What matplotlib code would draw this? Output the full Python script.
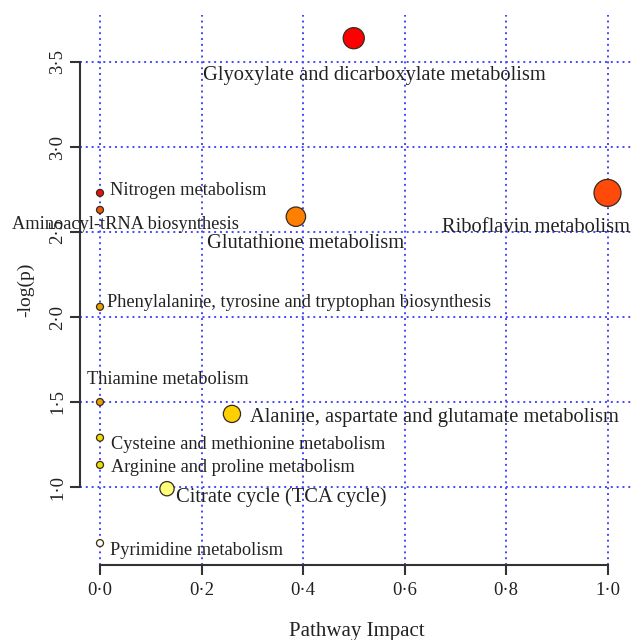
import numpy as np
import matplotlib.pyplot as plt

plt.rcParams['font.family'] = ['Liberation Serif', 'DejaVu Serif']

# pathway data
pathways = [
    "Glyoxylate and dicarboxylate metabolism",
    "Riboflavin metabolism",
    "Nitrogen metabolism",
    "Aminoacyl-tRNA biosynthesis",
    "Glutathione metabolism",
    "Phenylalanine, tyrosine and tryptophan biosynthesis",
    "Thiamine metabolism",
    "Alanine, aspartate and glutamate metabolism",
    "Cysteine and methionine metabolism",
    "Arginine and proline metabolism",
    "Citrate cycle (TCA cycle)",
    "Pyrimidine metabolism",
]
impact = [0.50, 1.00, 0.0, 0.0, 0.386, 0.0, 0.0, 0.26, 0.0, 0.0, 0.132, 0.0]
neglogp = [3.64, 2.73, 2.73, 2.63, 2.59, 2.06, 1.50, 1.43, 1.29, 1.13, 0.99, 0.67]

# colours and label placement (styling only)
colors = ["#ff0000", "#ff4a0a", "#e81010", "#e85a0a", "#ff8000", "#eaa000",
          "#eaa000", "#ffd000", "#ece000", "#ece000", "#ffff78", "#fffff0"]
big = [True, True, False, False, True, False, False, True, False, False, True, False]
offsets = [(21, -37, 'center'), (-72, -35, 'center'), (10, 2, 'left'),
           (25, -15, 'center'), (10, -27, 'center'), (7, 4, 'left'),
           (68, 22, 'center'), (18, -4, 'left'), (11, -7, 'left'),
           (11, -3, 'left'), (9, -8, 'left'), (10, -7, 'left')]

fig = plt.figure(figsize=(6.33, 6.40), dpi=100)
ax = fig.add_axes([80 / 633, 75 / 640, 553 / 633, 550 / 640])

x = np.array(impact)
y = np.array(neglogp)
diam_px = 7 + 20 * np.sqrt(x)
s = (diam_px * 0.72) ** 2

xticks = [0.0, 0.2, 0.4, 0.6, 0.8, 1.0]
yticks = [1.0, 1.5, 2.0, 2.5, 3.0, 3.5]
for t in xticks:
    ax.axvline(t, color='#4848ff', ls=(0, (1, 2)), lw=1.4, zorder=1)
for t in yticks:
    ax.axhline(t, color='#4848ff', ls=(0, (1, 2)), lw=1.4, zorder=1)

ax.scatter(x, y, s=s, c=colors, edgecolors='#3a2a20', linewidths=0.9, zorder=3)

for xi, yi, name, b, (dx, dy, ha) in zip(x, y, pathways, big, offsets):
    ax.annotate(name, (xi, yi), xytext=(dx, dy), textcoords='offset pixels',
                ha=ha, va='center', fontsize=14.8 if b else 13.2,
                color='#222222', zorder=4)

ax.set_xlim((80 - 100) / 507.5, (633 - 100) / 507.5)
ax.set_ylim(1 - 78 / 170, 1 + 472 / 170)

for side in ['top', 'right']:
    ax.spines[side].set_visible(False)
ax.spines['left'].set_bounds(1.0, 3.5)
ax.spines['bottom'].set_bounds(0.0, 1.0)
for side in ['left', 'bottom']:
    ax.spines[side].set_color('#333333')
    ax.spines[side].set_linewidth(1.5)

ax.set_xticks(xticks)
ax.set_xticklabels([f"{t:.1f}".replace('.', '\u00b7') for t in xticks])
ax.set_yticks(yticks)
ax.set_yticklabels([f"{t:.1f}".replace('.', '\u00b7') for t in yticks],
                   rotation=90, va='center')
ax.tick_params(axis='x', pad=5)
ax.tick_params(axis='y', pad=3)
ax.tick_params(direction='out', length=7, width=1.5, color='#333333',
               labelsize=13.5, labelcolor='#222222')

ax.set_xlabel("Pathway Impact", fontsize=15, color='#222222', labelpad=17)
ax.set_ylabel("-log(p)", fontsize=14, color='#222222', labelpad=11)

fig.savefig("out.png", dpi=100)
